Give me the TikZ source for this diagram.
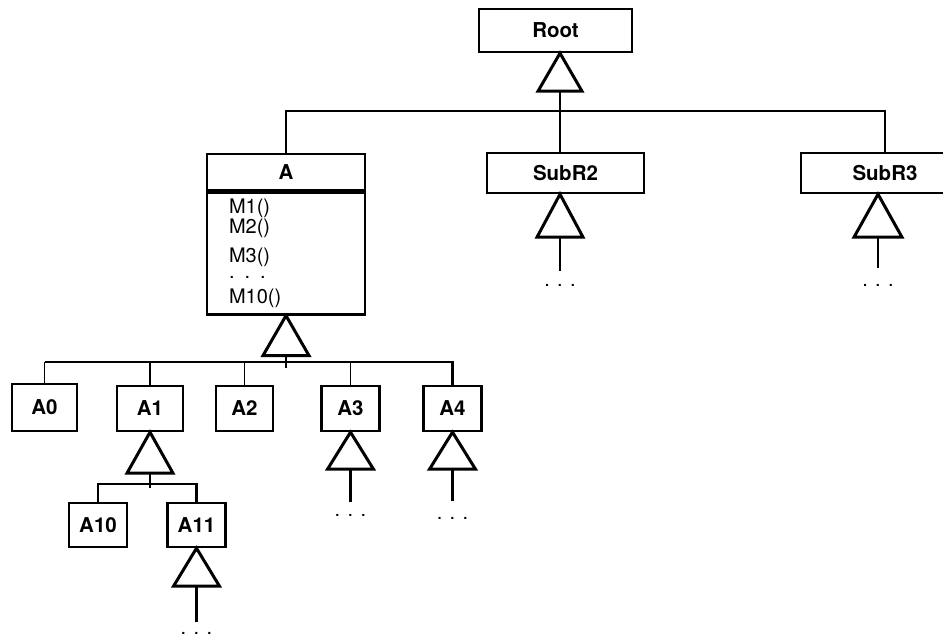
\documentclass[tikz,border=0pt]{standalone}
\usepackage{fontspec}
\setmainfont{TeX Gyre Heros}
\usepackage{tikz}

\begin{document}
\begin{tikzpicture}[x=1pt, y=-1pt, font=\fontsize{20}{22}\selectfont,
		cls/.style={draw, line width=2.4pt, inner sep=0pt, minimum width=58pt, minimum height=45pt, font=\fontsize{20.5}{22}\selectfont\bfseries},
		link/.style={line width=2.4pt},
		thinlink/.style={line width=1.5pt},
		tri/.style={line width=3pt, line join=miter},
		more/.style={anchor=base, inner sep=0pt}]
		\useasboundingbox (0,0) rectangle (943,636);
		% classes
		\node[cls, minimum width=153pt, minimum height=43pt] (root) at (555.5,30.5) {Root};
		\node[cls, minimum width=158pt, minimum height=36pt] (a) at (286,172) {A};
		\node[cls, anchor=north, minimum width=158pt, minimum height=122pt, text width=114pt, inner xsep=22pt, align=left, font=\fontsize{20}{16}\selectfont] (am) at (a.south) {M1()\\M2()\\[9pt]M3()\\. . .\\[9pt]M10()};
		\node[cls, minimum width=157pt, minimum height=40pt] (subr2) at (565.5,173) {SubR2};
		\node[cls, minimum width=168pt, minimum height=40pt] (subr3) at (885,173) {SubR3};
		\node[cls, minimum width=65pt, minimum height=47pt] (a0) at (44.5,407.5) {A0};
		\node[cls, minimum width=66pt] (a1) at (150,408.5) {A1};
		\node[cls, minimum width=57pt] (a2) at (244.5,408.5) {A2};
		\node[cls] (a3) at (350.5,408.5) {A3};
		\node[cls] (a4) at (452.5,408.5) {A4};
		\node[cls, minimum height=44pt] (a10) at (98,525) {A10};
		\node[cls, minimum height=44pt] (a11) at (196.5,525) {A11};
		% root level
		\coordinate (rj) at (560,111);
		\path (rj |- root.south) ++(0,38) coordinate (rb);
		\draw[tri] (rj |- root.south) -- ([xshift=-22pt]rb) -- ([xshift=22pt]rb) -- cycle;
		\draw[link] (a.north) |- (rj) -| (subr3.north);
		\draw[thinlink] (rb) -- (rj |- subr2.north);
		\coordinate (s2e) at (560,271);
		\path (s2e |- subr2.south) ++(0,43) coordinate (s2b);
		\draw[tri] (s2e |- subr2.south) -- ([xshift=-23pt]s2b) -- ([xshift=23pt]s2b) -- cycle;
		\draw[link] (s2e) -- (s2b);
		\node[more] (s2d) at (560,287) {. . .};
		\coordinate (s3e) at (878,268);
		\path (s3e |- subr3.south) ++(0,43) coordinate (s3b);
		\draw[tri] (s3e |- subr3.south) -- ([xshift=-24pt]s3b) -- ([xshift=24pt]s3b) -- cycle;
		\draw[link] (s3e) -- (s3b);
		\node[more] (s3d) at (878,287) {. . .};
		% subclasses of A
		\coordinate (aj) at (286,368);
		\coordinate (abar) at (286,362);
		\path (am.south) ++(0,40) coordinate (ab);
		\draw[tri] (am.south) -- ([xshift=-23pt]ab) -- ([xshift=23pt]ab) -- cycle;
		\draw[link] (aj) -- (ab);
		\draw[link] (a0.north |- abar) -- (a4.north |- abar) -- (a4.north);
		\draw[thinlink] (a0.north |- abar) -- (a0.north);
		\draw[link] (a1.north |- abar) -- (a1.north);
		\draw[thinlink] (a2.north |- abar) -- (a2.north);
		\draw[thinlink] (a3.north |- abar) -- (a3.north);
		\coordinate (a3e) at (350.5,502);
		\path (a3.south) ++(0,37) coordinate (a3b);
		\draw[tri] (a3.south) -- ([xshift=-23pt]a3b) -- ([xshift=23pt]a3b) -- cycle;
		\draw[link] (a3e) -- (a3b);
		\node[more] (a3d) at (350.5,516) {. . .};
		\coordinate (a4e) at (452.5,501);
		\path (a4.south) ++(0,37) coordinate (a4b);
		\draw[tri] (a4.south) -- ([xshift=-23pt]a4b) -- ([xshift=23pt]a4b) -- cycle;
		\draw[link] (a4e) -- (a4b);
		\node[more] (a4d) at (452.5,519) {. . .};
		% subclasses of A1
		\coordinate (a1j) at (150,488);
		\coordinate (a1bar) at (150,484);
		\path (a1.south) ++(0,41) coordinate (a1b);
		\draw[tri] (a1.south) -- ([xshift=-23pt]a1b) -- ([xshift=23pt]a1b) -- cycle;
		\draw[link] (a1j) -- (a1b);
		\draw[link] (a10.north) |- (a1bar) -| (a11.north);
		\coordinate (a11e) at (196.5,622);
		\path (a11.south) ++(0,38) coordinate (a11b);
		\draw[tri] (a11.south) -- ([xshift=-23pt]a11b) -- ([xshift=23pt]a11b) -- cycle;
		\draw[link] (a11e) -- (a11b);
		\node[more] (a11d) at (196.5,634) {. . .};
	\end{tikzpicture}
\end{document}
